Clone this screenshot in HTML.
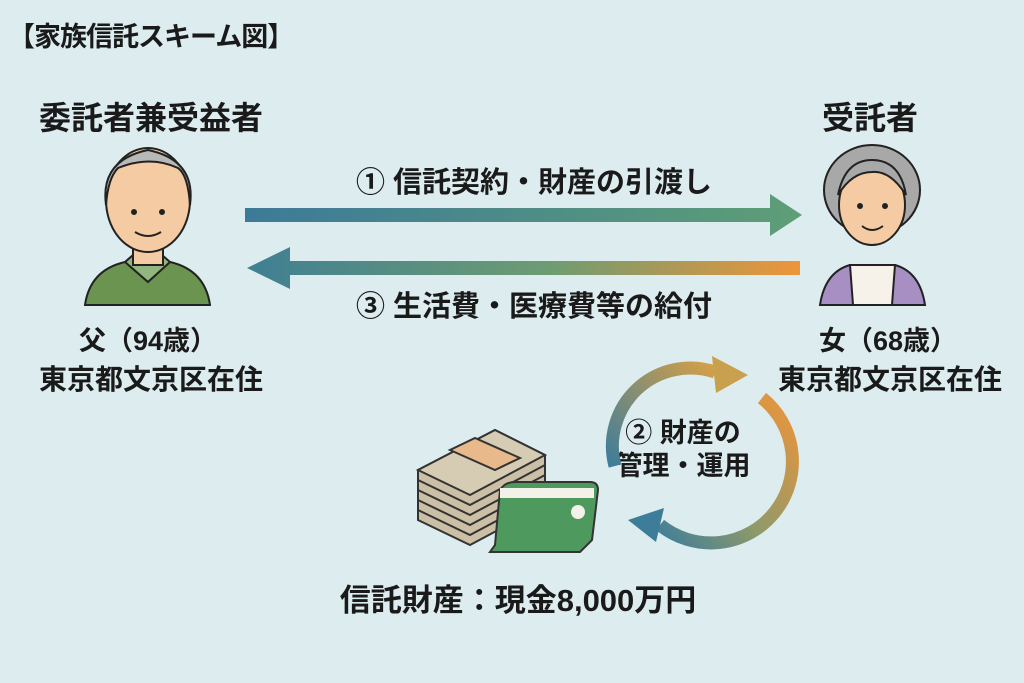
<!DOCTYPE html>
<html><head><meta charset="utf-8"><style>
body{margin:0;width:1024px;height:683px;background:#dcecef;overflow:hidden;position:relative;font-family:"Liberation Sans","Noto Sans CJK JP",sans-serif;font-weight:bold;color:#1a1a1a}
.t{position:absolute;white-space:nowrap;transform:translateX(-50%);line-height:1}
</style></head><body>
<div style="position:absolute;left:8px;top:24px;font-size:27px;line-height:1;letter-spacing:-1px">【家族信託スキーム図】</div>
<div class="t" style="left:151px;top:102px;font-size:32px">委託者兼受益者</div>
<div class="t" style="left:870px;top:102px;font-size:32px">受託者</div>
<div class="t" style="left:534px;top:169px;font-size:29px">① 信託契約・財産の引渡し</div>
<div class="t" style="left:534px;top:293px;font-size:29px">③ 生活費・医療費等の給付</div>
<div class="t" style="left:148px;top:328px;font-size:27px">父（94歳）</div>
<div class="t" style="left:151px;top:366px;font-size:28px">東京都文京区在住</div>
<div class="t" style="left:888px;top:328px;font-size:27px">女（68歳）</div>
<div class="t" style="left:890px;top:366px;font-size:28px">東京都文京区在住</div>
<div class="t" style="left:683px;top:420px;font-size:27px">② 財産の</div>
<div class="t" style="left:683px;top:453px;font-size:27px">管理・運用</div>
<div class="t" style="left:518px;top:585px;font-size:31px">信託財産：現金8,000万円</div>
<svg width="1024" height="683" style="position:absolute;left:0;top:0">
<defs>
<linearGradient id="g1" x1="0" x2="1"><stop offset="0" stop-color="#3d7a98"/><stop offset="1" stop-color="#5e9e76"/></linearGradient>
<linearGradient id="g2" x1="0" x2="1"><stop offset="0" stop-color="#3f7f93"/><stop offset=".55" stop-color="#6e9c72"/><stop offset="1" stop-color="#ee953a"/></linearGradient>
<linearGradient id="g3" x1="0" x2="1" y1="1" y2="0"><stop offset="0" stop-color="#3e7d9a"/><stop offset="1" stop-color="#d4a048"/></linearGradient>
<linearGradient id="g4" x1="1" x2="0" y1="0" y2="1"><stop offset="0" stop-color="#ee953a"/><stop offset=".6" stop-color="#8d9a6a"/><stop offset="1" stop-color="#3e7d9a"/></linearGradient>
</defs>
<path d="M245 208H770V194L802 215L770 236V222H245Z" fill="url(#g1)"/>
<path d="M800 261H290V247L247 268L290 289V275H800Z" fill="url(#g2)"/>
<path d="M615 466 A78 78 0 0 1 715 372" fill="none" stroke="url(#g3)" stroke-width="13"/>
<path d="M712 356 L748 375 L716 393Z" fill="#c9a04e"/>
<path d="M762 398 A78 78 0 0 1 660 525" fill="none" stroke="url(#g4)" stroke-width="13"/>
<path d="M664 508 L628 520 L656 542Z" fill="#3e7d9a"/>
<!-- man -->
<g stroke="#222" stroke-width="2">
<path d="M85 305 Q90 270 125 262 L170 262 Q205 270 210 305Z" fill="#6b9450"/>
<path d="M125 262 L148 282 L170 262 L162 255 L133 255Z" fill="#93b57f"/>
<rect x="133" y="240" width="30" height="25" fill="#f5cba3"/>
<ellipse cx="148" cy="200" rx="42" ry="52" fill="#f5cba3"/>
<path d="M106 205 Q100 160 148 150 Q196 160 190 205 Q188 175 178 168 Q150 155 118 168 Q108 178 106 205Z" fill="#b8b8b8"/>
</g>
<circle cx="134" cy="212" r="3" fill="#222"/><circle cx="162" cy="212" r="3" fill="#222"/>
<path d="M135 232 Q148 240 161 232" stroke="#222" stroke-width="2" fill="none"/>
<!-- woman -->
<g stroke="#222" stroke-width="2">
<path d="M820 305 Q825 272 850 265 L895 265 Q920 272 925 305Z" fill="#a88fc3"/>
<path d="M850 265 L895 265 L892 305 L853 305Z" fill="#f6f2ea"/>
<ellipse cx="872" cy="190" rx="48" ry="45" fill="#a8a8a8"/>
<ellipse cx="872" cy="205" rx="33" ry="40" fill="#f5cba3"/>
<path d="M838 195 Q845 160 872 160 Q900 160 906 195 Q890 170 872 172 Q852 172 838 195Z" fill="#a8a8a8"/>
</g>
<circle cx="860" cy="206" r="3" fill="#222"/><circle cx="885" cy="206" r="3" fill="#222"/>
<path d="M862 226 Q872 234 883 226" stroke="#222" stroke-width="2" fill="none"/>
<!-- money -->
<g stroke="#333" stroke-width="2">
<path d="M418 470 L495 430 L545 455 L545 505 L470 545 L418 520Z" fill="#cbbfa5"/>
<path d="M418 480 L470 505 L545 465 M418 490 L470 515 L545 475 M418 500 L470 525 L545 485 M418 510 L470 535 L545 495" fill="none"/>
<path d="M418 470 L495 430 L545 455 L470 495Z" fill="#d6ccb4"/>
<path d="M450 450 L495 470 L520 458 L475 438Z" fill="#e8b98a"/>
<path d="M495 545 L500 490 Q505 482 515 482 L590 482 Q598 482 598 490 L592 540 L580 552 L490 552Z" fill="#4e9a5e"/>
<rect x="500" y="488" width="94" height="10" fill="#f2f2ea" stroke="none"/>
</g>
<circle cx="578" cy="512" r="7" fill="#f2f2ea"/>
</svg>
</body></html>
